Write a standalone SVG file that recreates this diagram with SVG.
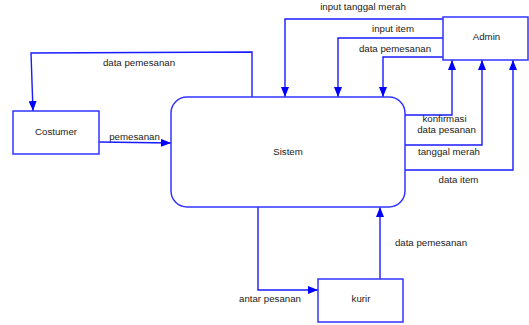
<svg xmlns="http://www.w3.org/2000/svg" width="529" height="325" viewBox="0 0 529 325">
<style>
.box{fill:#fff;stroke:#3333ff;stroke-width:1.5}
.ln{fill:none;stroke:#1a1aff;stroke-width:1.4}
text{font-family:"Liberation Sans",Arial,sans-serif;font-size:9.7px;fill:#222;text-anchor:middle}
</style>
<defs>
<marker id="ah" viewBox="0 0 10 8" refX="10" refY="4" markerWidth="10" markerHeight="8" markerUnits="userSpaceOnUse" orient="auto">
<path d="M0,0 L10,4 L0,8 Z" fill="#0000ff"/>
</marker>
</defs>
<g id="connectors">
<polyline class="ln" points="252,97 252,52 31,53 33,111" marker-end="url(#ah)"/>
<polyline class="ln" points="99,142 171,143" marker-end="url(#ah)"/>
<polyline class="ln" points="443,19 285,19 285,97" marker-end="url(#ah)"/>
<polyline class="ln" points="443,38 338,38 338,97" marker-end="url(#ah)"/>
<polyline class="ln" points="443,57 383,57 383,97" marker-end="url(#ah)"/>
<polyline class="ln" points="405,115 452,115 452,60" marker-end="url(#ah)"/>
<polyline class="ln" points="405,145 482,145 482,60" marker-end="url(#ah)"/>
<polyline class="ln" points="405,170 513,170 513,60" marker-end="url(#ah)"/>
<polyline class="ln" points="258,207 258,290 318,290" marker-end="url(#ah)"/>
<polyline class="ln" points="380,279 380,207" marker-end="url(#ah)"/>
<text x="139" y="66">data pemesanan</text>
<text x="134.5" y="140">pemesanan</text>
<text x="363" y="10">input tanggal merah</text>
<text x="393" y="32">input item</text>
<text x="395" y="52">data pemesanan</text>
<text x="444.5" y="122">konfirmasi</text>
<text x="446.5" y="133">data pesanan</text>
<text x="449" y="155">tanggal merah</text>
<text x="458.5" y="183">data item</text>
<text x="270" y="302">antar pesanan</text>
<text x="431" y="246">data pemesanan</text>
</g>
<g id="sistem">
<rect class="box" x="171" y="97" width="234" height="110" rx="16" ry="16"/>
<text x="288" y="155">Sistem</text>
</g>
<g id="costumer">
<rect class="box" x="13" y="111" width="86" height="43"/>
<text x="56" y="135">Costumer</text>
</g>
<g id="admin">
<rect class="box" x="443" y="17" width="85" height="43"/>
<text x="486.5" y="40">Admin</text>
</g>
<g id="kurir">
<rect class="box" x="318" y="279" width="85" height="43"/>
<text x="361" y="302">kurir</text>
</g>
</svg>
